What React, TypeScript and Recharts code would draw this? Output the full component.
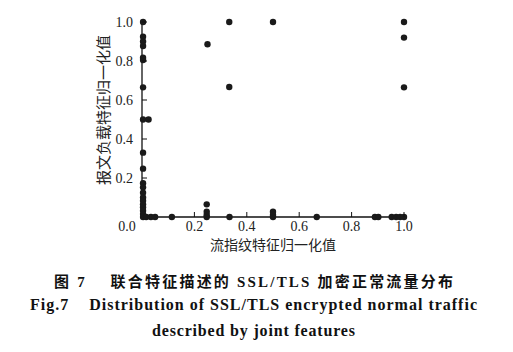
import React from 'react';
import { ScatterChart, Scatter, XAxis, YAxis } from 'recharts';

const xTicks = [0, 0.2, 0.4, 0.6, 0.8, 1.0];
const yTicks = [0.2, 0.4, 0.6, 0.8, 1.0];

// points on the vertical axis (flow fingerprint ~ 0)
const axisYValues = [1.0, 0.925, 0.9, 0.877, 0.817, 0.805, 0.665, 0.5, 0.33, 0.248, 0.173, 0.152, 0.125, 0.1, 0.083, 0.065, 0.05, 0.032, 0.015, 0.0];
// remaining points
const otherX = [0.025, 0.016, 0.034, 0.05, 0.114, 0.247, 0.247, 0.247, 0.247, 0.334, 0.5, 0.5, 0.5, 0.667, 0.889, 0.902, 0.953, 0.97, 0.985, 1.0, 0.25, 0.333, 0.5, 0.333, 1.0, 1.0, 1.0];
const otherY = [0.5, 0.0, 0.0, 0.0, 0.0, 0.0, 0.01, 0.027, 0.065, 0.0, 0.0, 0.01, 0.027, 0.0, 0.0, 0.0, 0.0, 0.0, 0.0, 0.0, 0.886, 1.0, 1.0, 0.667, 1.0, 0.92, 0.665];

const xTitle = '流指纹特征归一化值';
const yTitle = '报文负载特征归一化值';
const captionCn = '图 7    联合特征描述的 SSL/TLS 加密正常流量分布';
const captionEn1 = 'Fig.7    Distribution of SSL/TLS encrypted normal traffic';
const captionEn2 = 'described by joint features';

const data = [
  ...axisYValues.map((y) => ({ x: 0.004, y })),
  ...otherX.map((x, i) => ({ x, y: otherY[i] })),
];

const serif = "'Liberation Serif', serif";
const cjk = "'Noto Sans CJK SC', sans-serif";
const mixed = "'Liberation Serif', 'Noto Sans CJK SC', serif";

const XTick = (props: any) => {
  const { x, y, payload } = props;
  const v = payload.value as number;
  return (
    <g>
      {v !== 0 && <line x1={x} y1={y} x2={x} y2={y - 5} stroke="#111" strokeWidth={1} />}
      <text x={v === 0 ? x - 15 : x} y={y + 14} textAnchor="middle" fill="#222" style={{ fontFamily: serif, fontSize: 14 }}>
        {v.toFixed(1)}
      </text>
    </g>
  );
};

const YTick = (props: any) => {
  const { x, y, payload } = props;
  const v = payload.value as number;
  return (
    <g>
      <line x1={x} y1={y} x2={x + 5} y2={y} stroke="#111" strokeWidth={1} />
      <text x={x - 9} y={y + 4.5} textAnchor="end" fill="#222" style={{ fontFamily: serif, fontSize: 14 }}>
        {v.toFixed(1)}
      </text>
    </g>
  );
};

export default function App() {
  return (
    <div style={{ position: 'absolute', left: 0, top: 0, width: 513, height: 352, background: '#fff' }}>
      <ScatterChart width={513} height={352} margin={{ top: 22, right: 109, bottom: 0, left: 0 }}>
        <XAxis
          type="number"
          dataKey="x"
          domain={[0, 1]}
          ticks={xTicks}
          height={135}
          tickSize={0}
          tickMargin={0}
          tickLine={false}
          axisLine={{ stroke: '#111', strokeWidth: 1.3 }}
          tick={<XTick />}
          interval={0}
        />
        <YAxis
          type="number"
          dataKey="y"
          domain={[0, 1]}
          ticks={yTicks}
          width={142}
          tickSize={0}
          tickMargin={0}
          tickLine={false}
          axisLine={{ stroke: '#111', strokeWidth: 1.3 }}
          tick={<YTick />}
          interval={0}
        />
        <Scatter data={data} fill="#1a1a1a" isAnimationActive={false} shape={(p: any) => <circle cx={p.cx} cy={p.cy} r={3.2} fill="#1a1a1a" />} />
      </ScatterChart>
      <svg width={513} height={352} style={{ position: 'absolute', left: 0, top: 0, pointerEvents: 'none' }}>
        <text x={273} y={250} textAnchor="middle" fill="#222" style={{ fontFamily: cjk, fontSize: 14 }}>
          {xTitle}
        </text>
        <text transform="translate(109,110) rotate(-90)" x={0} y={0} textAnchor="middle" fill="#222" style={{ fontFamily: cjk, fontSize: 15 }}>
          {yTitle}
        </text>
        <text x={54} y={287} fill="#111" textLength={399} lengthAdjust="spacing" style={{ fontFamily: mixed, fontSize: 15, fontWeight: 'bold', whiteSpace: 'pre' }}>
          {captionCn}
        </text>
        <text x={30} y={310} fill="#111" textLength={447} lengthAdjust="spacing" style={{ fontFamily: serif, fontSize: 16, fontWeight: 'bold', whiteSpace: 'pre' }}>
          {captionEn1}
        </text>
        <text x={152} y={336} fill="#111" textLength={203} lengthAdjust="spacing" style={{ fontFamily: serif, fontSize: 16, fontWeight: 'bold', whiteSpace: 'pre' }}>
          {captionEn2}
        </text>
      </svg>
    </div>
  );
}
